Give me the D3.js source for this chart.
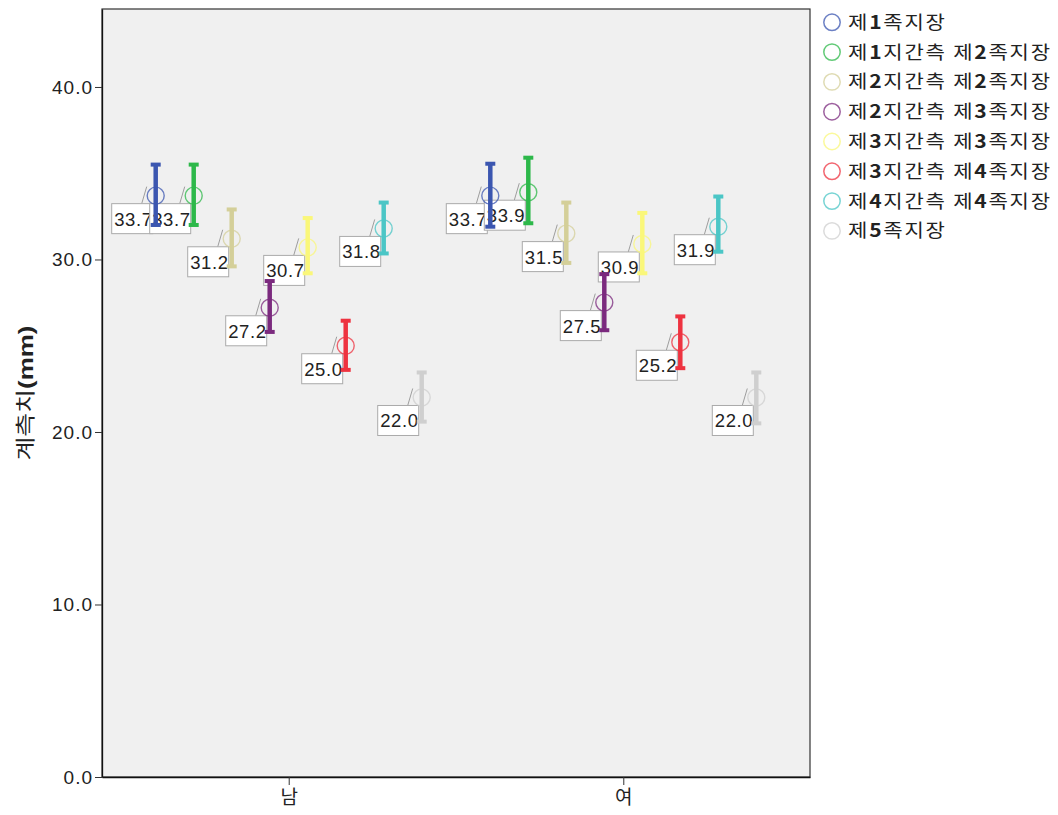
<!DOCTYPE html>
<html>
<head>
<meta charset="utf-8">
<script src="https://cdn.jsdelivr.net/npm/d3@7"></script>
<style>
  body { margin: 0; background: #fff; }
  svg { display: block; }
  .tick text { font-family: "Liberation Sans", Arial, sans-serif; fill: #222; }
</style>
</head>
<body>
<script>
// categories on the x axis
const genders = ["남", "여"];

// one series per measurement, same order as the legend
const seriesNames = [
  "제1족지장",
  "제1지간측 제2족지장",
  "제2지간측 제2족지장",
  "제2지간측 제3족지장",
  "제3지간측 제3족지장",
  "제3지간측 제4족지장",
  "제4지간측 제4족지장",
  "제5족지장"
];
const seriesColors = [
  "#3b56b0", "#2db84a", "#d4cf99", "#7b2a7e",
  "#faf77a", "#ee3340", "#4bc6c6", "#cfcfcf"
];

// means and 95% CI ends
const meanMale   = [33.7, 33.7, 31.2, 27.2, 30.7, 25.0, 31.8, 22.0];
const lowerMale  = [32.0, 32.0, 29.6, 25.8, 29.2, 23.6, 30.35, 20.6];
const upperMale  = [35.5, 35.5, 32.9, 28.75, 32.4, 26.45, 33.3, 23.45];
const meanFemale  = [33.7, 33.9, 31.5, 27.5, 30.9, 25.2, 31.9, 22.0];
const lowerFemale = [31.9, 32.1, 29.8, 25.9, 29.2, 23.7, 30.45, 20.5];
const upperFemale = [35.55, 35.9, 33.3, 29.15, 32.7, 26.7, 33.65, 23.45];

const yTicks = [0, 10, 20, 30, 40];
const yTitle = "계측치(mm)";

const width = 1058, height = 815;
const plot = { left: 102, right: 810, top: 9, bottom: 777 };

const svg = d3.select("body").append("svg")
  .attr("width", width)
  .attr("height", height);

const x0 = d3.scalePoint().domain(genders)
  .range([plot.left, plot.right]).padding(0.558);
const x1 = d3.scalePoint().domain(seriesNames).range([-133, 133]);
const y = d3.scaleLinear().domain([0, 44.52]).range([plot.bottom, plot.top]);

// build rows from the arrays
const rows = [];
genders.forEach((g, gi) => {
  const m = gi === 0 ? meanMale : meanFemale;
  const lo = gi === 0 ? lowerMale : lowerFemale;
  const hi = gi === 0 ? upperMale : upperFemale;
  seriesNames.forEach((s, si) => {
    rows.push({ gender: g, series: s, color: seriesColors[si], mean: m[si], lo: lo[si], hi: hi[si] });
  });
});

// plot background + frame
svg.append("rect")
  .attr("x", plot.left).attr("y", plot.top)
  .attr("width", plot.right - plot.left).attr("height", plot.bottom - plot.top)
  .attr("fill", "#f0f0f0")
  .attr("stroke", "#333").attr("stroke-width", 1.2);

// y axis
const yAxis = svg.append("g")
  .attr("transform", `translate(${plot.left},0)`)
  .call(d3.axisLeft(y).tickValues(yTicks).tickFormat(d3.format(".1f"))
    .tickSize(7).tickSizeOuter(0).tickPadding(2));
yAxis.select(".domain").attr("stroke", "#111").attr("stroke-width", 1.3);
yAxis.selectAll(".tick line").attr("stroke", "#333");
yAxis.selectAll(".tick text")
  .style("font-size", "19px").attr("letter-spacing", 1);

// x axis
const xAxis = svg.append("g")
  .attr("transform", `translate(0,${plot.bottom})`)
  .call(d3.axisBottom(x0).tickSize(8).tickSizeOuter(0).tickPadding(6));
xAxis.select(".domain").attr("stroke", "#111").attr("stroke-width", 1.3);
xAxis.selectAll(".tick line").attr("stroke", "#333");
xAxis.selectAll(".tick text")
  .style("font-family", "'Noto Sans CJK KR', sans-serif")
  .style("font-size", "19px");

// y title
svg.append("text")
  .attr("transform", `translate(33,${(plot.top + plot.bottom) / 2}) rotate(-90)`)
  .attr("text-anchor", "middle")
  .attr("font-family", "'Noto Sans CJK KR', sans-serif")
  .attr("font-size", 20)
  .attr("fill", "#222")
  .attr("textLength", 135)
  .attr("lengthAdjust", "spacingAndGlyphs")
  .call(t => {
    t.append("tspan").text(yTitle.replace("(mm)", ""));
    t.append("tspan").attr("font-weight", "bold")
      .style("font-family", "'Liberation Sans', Arial, sans-serif")
      .text("(mm)");
  });

const cx = d => x0(d.gender) + x1(d.series);

// value labels go underneath the bars
const labels = svg.append("g").selectAll("g")
  .data(rows).join("g")
  .attr("transform", d => `translate(${cx(d)},${y(d.mean)})`);
labels.append("line")
  .attr("x1", -14).attr("y1", 8).attr("x2", -9).attr("y2", -9)
  .attr("stroke", "#888").attr("stroke-width", 0.8);
labels.append("rect")
  .attr("x", -44).attr("y", 8).attr("width", 41).attr("height", 30)
  .attr("fill", "#fff").attr("stroke", "#aaa").attr("stroke-width", 1);
labels.append("text")
  .attr("x", -41.5).attr("y", 30)
  .style("font-family", "'Liberation Sans', Arial, sans-serif")
  .style("font-size", "18.5px").attr("letter-spacing", 0.6)
  .attr("fill", "#222")
  .text(d => d3.format(".1f")(d.mean));

// mean markers and error bars
const marks = svg.append("g").selectAll("g")
  .data(rows).join("g");
marks.append("circle")
  .attr("cx", cx).attr("cy", d => y(d.mean)).attr("r", 8.5)
  .attr("fill", "none")
  .attr("stroke", d => d.color).attr("stroke-opacity", 0.75).attr("stroke-width", 1.4);
marks.append("line")
  .attr("x1", cx).attr("x2", cx)
  .attr("y1", d => y(d.lo)).attr("y2", d => y(d.hi))
  .attr("stroke", d => d.color).attr("stroke-width", 4.5);
marks.selectAll("rect.cap")
  .data(d => [{ d, v: d.lo }, { d, v: d.hi }])
  .join("rect").attr("class", "cap")
  .attr("x", c => cx(c.d) - 5).attr("y", c => y(c.v) - 2)
  .attr("width", 10).attr("height", 4)
  .attr("fill", c => c.d.color);

// legend
const legend = svg.append("g").selectAll("g")
  .data(seriesNames).join("g")
  .attr("transform", (d, i) => `translate(832,${22.3 + i * 29.8})`);
legend.append("circle")
  .attr("r", 8.2).attr("fill", "none")
  .attr("stroke", (d, i) => seriesColors[i]).attr("stroke-opacity", 0.75)
  .attr("stroke-width", 1.5);
legend.append("text")
  .attr("transform", "translate(16,0) scale(1.17,1)")
  .attr("dy", "0.36em")
  .attr("font-family", "'Noto Sans CJK KR', sans-serif")
  .attr("font-size", 18).attr("letter-spacing", 1.5)
  .attr("fill", "#222")
  .each(function(d) {
    const t = d3.select(this);
    d.split(/(\d)/).filter(p => p.length).forEach(p => {
      const span = t.append("tspan").text(p);
      if (/\d/.test(p)) span.attr("font-weight", "bold");
    });
  });
</script>
</body>
</html>
